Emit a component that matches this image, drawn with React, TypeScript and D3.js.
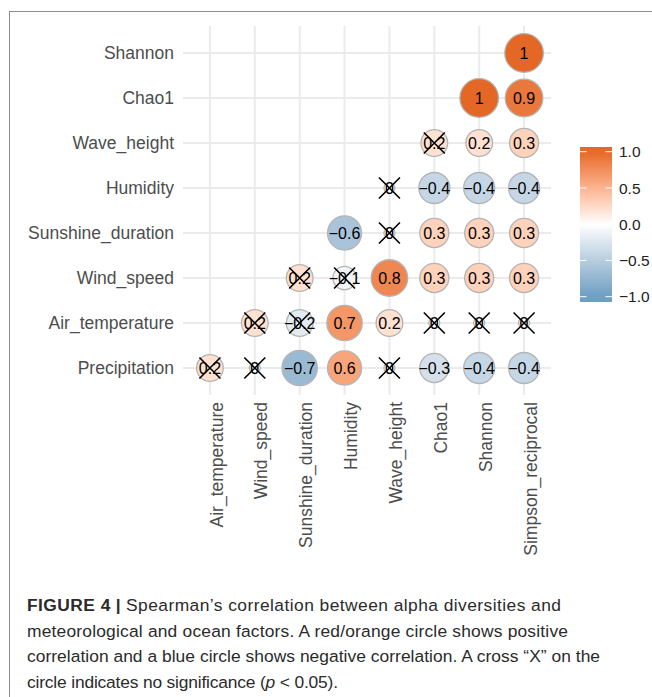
import { useEffect, useRef } from 'react';
import * as d3 from 'd3';

// variables on each axis (rows listed bottom to top)
const rowVars = ['Precipitation', 'Air_temperature', 'Wind_speed', 'Sunshine_duration', 'Humidity', 'Wave_height', 'Chao1', 'Shannon'];
const colVars = ['Air_temperature', 'Wind_speed', 'Sunshine_duration', 'Humidity', 'Wave_height', 'Chao1', 'Shannon', 'Simpson_reciprocal'];

// Spearman rho per row, starting at the diagonal column
const rhoPrecipitation = [0.2, 0, -0.7, 0.6, 0, -0.3, -0.4, -0.4];
const rhoAirTemperature = [0.2, -0.2, 0.7, 0.2, 0, 0, 0];
const rhoWindSpeed = [0.2, -0.1, 0.8, 0.3, 0.3, 0.3];
const rhoSunshine = [-0.6, 0, 0.3, 0.3, 0.3];
const rhoHumidity = [0, -0.4, -0.4, -0.4];
const rhoWaveHeight = [0.2, 0.2, 0.3];
const rhoChao1 = [1, 0.9];
const rhoShannon = [1];

// 1 = not significant (crossed out)
const nsPrecipitation = [1, 1, 0, 0, 1, 0, 0, 0];
const nsAirTemperature = [1, 1, 0, 0, 1, 1, 1];
const nsWindSpeed = [1, 1, 0, 0, 0, 0];
const nsSunshine = [0, 1, 0, 0, 0];
const nsHumidity = [1, 0, 0, 0];
const nsWaveHeight = [1, 0, 0];
const nsChao1 = [0, 0];
const nsShannon = [0];

const legendTicks = [1, 0.5, 0, -0.5, -1];

const captionLines = [
	'meteorological and ocean factors. A red/orange circle shows positive',
	'correlation and a blue circle shows negative correlation. A cross \u201CX\u201D on the',
];
const captionWidths = [534, 541, 573, 311];

const rhoRows = [rhoPrecipitation, rhoAirTemperature, rhoWindSpeed, rhoSunshine, rhoHumidity, rhoWaveHeight, rhoChao1, rhoShannon];
const nsRows = [nsPrecipitation, nsAirTemperature, nsWindSpeed, nsSunshine, nsHumidity, nsWaveHeight, nsChao1, nsShannon];

interface Cell {
	row: string;
	col: string;
	value: number;
	ns: boolean;
}

const W = 652;
const H = 697;
const FONT = '"Liberation Sans", Arial, Helvetica, sans-serif';

export default function App() {
	const svgRef = useRef<SVGSVGElement>(null);

	useEffect(() => {
		if (!svgRef.current) return;
		const svg = d3.select(svgRef.current);
		svg.selectAll('*').remove();

		const cells: Cell[] = [];
		rhoRows.forEach((vals, i) => {
			vals.forEach((v, k) => {
				cells.push({ row: rowVars[i], col: colVars[i + k], value: v, ns: nsRows[i][k] === 1 });
			});
		});

		// panel
		const panel = { left: 183, right: 551, top: 26, bottom: 395 };
		const x = d3.scalePoint<string>().domain(colVars).range([panel.left, panel.right]).padding(0.6);
		const y = d3.scalePoint<string>().domain(rowVars).range([panel.bottom, panel.top]).padding(0.6);

		const color = d3
			.scaleLinear<string>()
			.domain([-1, 0, 1])
			.range(['#6D9EC1', '#FFFFFF', '#E46726'])
			.interpolate(d3.interpolateLab);

		const radius = d3.scalePow().exponent(0.35).domain([0, 1]).range([5.5, 19.3]);
		const fmt = d3.format('.1~f');

		// page frame
		svg.append('line').attr('x1', 9).attr('x2', W).attr('y1', 11.5).attr('y2', 11.5).attr('stroke', '#8c8c8c').attr('stroke-width', 1);
		svg.append('line').attr('x1', 9.5).attr('x2', 9.5).attr('y1', 11).attr('y2', H).attr('stroke', '#8c8c8c').attr('stroke-width', 1);

		// grid
		const grid = svg.append('g').attr('stroke', '#EBEBEB').attr('stroke-width', 2);
		colVars.forEach((c) => {
			grid.append('line').attr('x1', x(c)!).attr('x2', x(c)!).attr('y1', panel.top).attr('y2', panel.bottom);
		});
		rowVars.forEach((r) => {
			grid.append('line').attr('x1', panel.left).attr('x2', panel.right).attr('y1', y(r)!).attr('y2', y(r)!);
		});

		// axis labels
		svg
			.append('g')
			.selectAll('text')
			.data(rowVars)
			.enter()
			.append('text')
			.attr('x', 174)
			.attr('y', (d) => y(d)!)
			.attr('dy', '0.35em')
			.attr('text-anchor', 'end')
			.attr('font-family', FONT)
			.attr('font-size', 17.5)
			.attr('fill', '#4D4D4D')
			.text((d) => d);

		svg
			.append('g')
			.selectAll('text')
			.data(colVars)
			.enter()
			.append('text')
			.attr('transform', (d) => `translate(${x(d)},402) rotate(-90)`)
			.attr('y', 12.6)
			.attr('text-anchor', 'end')
			.attr('font-family', FONT)
			.attr('font-size', 17.5)
			.attr('fill', '#4D4D4D')
			.text((d) => d);

		// circles
		const g = svg
			.append('g')
			.selectAll('g')
			.data(cells)
			.enter()
			.append('g')
			.attr('transform', (d) => `translate(${x(d.col)},${y(d.row)})`);

		g.append('circle')
			.attr('r', (d) => radius(Math.abs(d.value)))
			.attr('fill', (d) => color(d.value))
			.attr('stroke', '#B4B4B4')
			.attr('stroke-width', 1.3);

		g.append('text')
			.attr('text-anchor', 'middle')
			.attr('dy', '0.36em')
			.attr('font-family', FONT)
			.attr('font-size', 16)
			.attr('fill', '#000')
			.text((d) => fmt(d.value));

		const cs = 10.5;
		g.filter((d) => d.ns)
			.append('path')
			.attr('d', `M${-cs},${-cs}L${cs},${cs}M${-cs},${cs}L${cs},${-cs}`)
			.attr('stroke', '#000')
			.attr('stroke-width', 1.6)
			.attr('fill', 'none');

		// legend
		const leg = { x: 580, y: 147, w: 32, h: 155 };
		const ly = d3.scaleLinear().domain([-1, 1]).range([296.7, 151.7]);
		const defs = svg.append('defs');
		const grad = defs
			.append('linearGradient')
			.attr('id', 'corrGrad')
			.attr('x1', 0)
			.attr('x2', 0)
			.attr('y1', 1)
			.attr('y2', 0);
		d3.range(0, 21).forEach((i) => {
			const t = i / 20;
			const v = ly.invert(leg.y + leg.h - t * leg.h);
			grad
				.append('stop')
				.attr('offset', t)
				.attr('stop-color', color(Math.max(-1, Math.min(1, v))));
		});
		svg.append('rect').attr('x', leg.x).attr('y', leg.y).attr('width', leg.w).attr('height', leg.h).attr('fill', 'url(#corrGrad)');

		const lg = svg.append('g');
		legendTicks.forEach((t) => {
			lg.append('line').attr('x1', leg.x).attr('x2', leg.x + 6.5).attr('y1', ly(t)).attr('y2', ly(t)).attr('stroke', '#fff').attr('stroke-width', 1);
			lg.append('line').attr('x1', leg.x + leg.w - 6.5).attr('x2', leg.x + leg.w).attr('y1', ly(t)).attr('y2', ly(t)).attr('stroke', '#fff').attr('stroke-width', 1);
			lg.append('text')
				.attr('x', 619)
				.attr('y', ly(t))
				.attr('dy', '0.36em')
				.attr('font-family', FONT)
				.attr('font-size', 15.5)
				.attr('fill', '#222')
				.text(d3.format('.1f')(t));
		});

		// caption
		const cap = svg.append('g').attr('font-family', FONT).attr('font-size', 17.4).attr('fill', '#2b2b2b');
		const l1 = cap.append('text').attr('x', 27).attr('y', 611).attr('textLength', captionWidths[0]).attr('lengthAdjust', 'spacing');
		l1.append('tspan').attr('font-weight', 'bold').text('FIGURE 4');
		l1.append('tspan').attr('font-weight', 'bold').attr('dx', 5).text('|');
		l1.append('tspan').attr('dx', 5).text('Spearman\u2019s correlation between alpha diversities and');
		captionLines.forEach((s, i) => {
			cap.append('text')
				.attr('x', 27)
				.attr('y', 636.5 + i * 25.5)
				.attr('textLength', captionWidths[i + 1])
				.attr('lengthAdjust', 'spacing')
				.text(s);
		});
		const l4 = cap.append('text').attr('x', 27).attr('y', 687.5).attr('textLength', captionWidths[3]).attr('lengthAdjust', 'spacing');
		l4.append('tspan').text('circle indicates no significance (');
		l4.append('tspan').attr('font-style', 'italic').text('p');
		l4.append('tspan').text(' < 0.05).');
	}, []);

	return (
		<div style={{ position: 'absolute', left: 0, top: 0 }}>
			<svg ref={svgRef} width={W} height={H} style={{ display: 'block', background: '#fff' }}></svg>
		</div>
	);
}
